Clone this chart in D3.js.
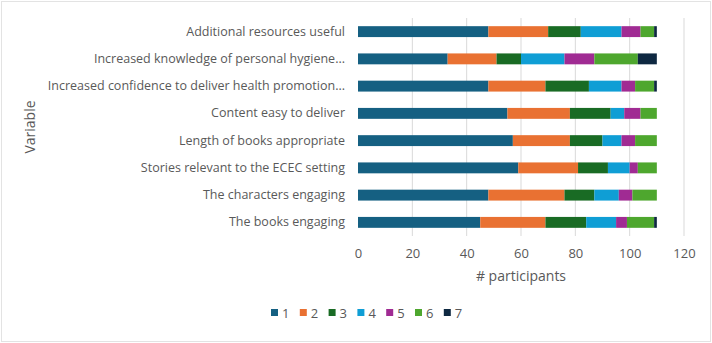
<!DOCTYPE html>
<html>
<head>
<meta charset="utf-8">
<script src="https://cdn.jsdelivr.net/npm/d3@7"></script>
<style>
  body { margin: 0; background: #fff; }
  text { font-family: "Open Sans", sans-serif; fill: #595959; }
</style>
</head>
<body>
<div id="visualize"></div>
<script>
// Chart size
const width = 712;
const height = 343;

// Categories (top to bottom)
const categories = [
    "Additional resources useful",
    "Increased knowledge of personal hygiene...",
    "Increased confidence to deliver health promotion...",
    "Content easy to deliver",
    "Length of books appropriate",
    "Stories relevant to the ECEC setting",
    "The characters engaging",
    "The books engaging"
];

// Rating levels (legend keys)
const levels = ["1", "2", "3", "4", "5", "6", "7"];

// Participant counts per level, one value per category
const level1 = [48, 33, 48, 55, 57, 59, 48, 45];
const level2 = [22, 18, 21, 23, 21, 22, 28, 24];
const level3 = [12, 9, 16, 15, 12, 11, 11, 15];
const level4 = [15, 16, 12, 5, 7, 8, 9, 11];
const level5 = [7, 11, 5, 6, 5, 3, 5, 4];
const level6 = [5, 16, 7, 6, 8, 7, 9, 10];
const level7 = [1, 7, 1, 0, 0, 0, 0, 1];

const xTicks = [0, 20, 40, 60, 80, 100, 120];

const colors = ["#156082", "#E97132", "#196B24", "#0F9ED5", "#A02B93", "#4EA72E", "#0E2841"];

// build rows for the stack
const series = [level1, level2, level3, level4, level5, level6, level7];
const rows = categories.map((c, i) => {
    const row = { category: c };
    levels.forEach((l, j) => { row[l] = series[j][i]; });
    return row;
});

const margin = { top: 18, right: 28, bottom: 107, left: 358 };

const svg = d3.select("#visualize")
    .append("svg")
    .attr("width", width)
    .attr("height", height);

// light outer frame
svg.append("rect")
    .attr("x", 1.5).attr("y", 1.5)
    .attr("width", width - 3).attr("height", height - 3)
    .attr("fill", "none")
    .attr("stroke", "#e3e3e3");

const x = d3.scaleLinear()
    .domain([0, 120])
    .range([margin.left, width - margin.right]);

const y = d3.scaleBand()
    .domain(categories)
    .range([margin.top, height - margin.bottom])
    .paddingInner(0.6)
    .paddingOuter(0.3);

// gridlines
svg.append("g")
    .selectAll("line")
    .data(xTicks.slice(1))
    .enter().append("line")
    .attr("x1", d => x(d)).attr("x2", d => x(d))
    .attr("y1", margin.top).attr("y2", height - margin.bottom)
    .attr("stroke", "#d9d9d9")
    .attr("stroke-width", 1);

// stacked bars
const stack = d3.stack().keys(levels)(rows);

svg.append("g")
    .selectAll("g")
    .data(stack)
    .enter().append("g")
    .attr("fill", (d, i) => colors[i])
    .selectAll("rect")
    .data(d => d)
    .enter().append("rect")
    .attr("x", d => x(d[0]))
    .attr("width", d => x(d[1]) - x(d[0]))
    .attr("y", d => y(d.data.category))
    .attr("height", y.bandwidth());

// x axis
const xAxis = svg.append("g")
    .attr("transform", `translate(0,${height - margin.bottom})`)
    .call(d3.axisBottom(x).tickValues(xTicks).tickSize(0).tickPadding(13));
xAxis.select(".domain").remove();
xAxis.selectAll("text")
    .style("font-size", "13px")
    .style("font-family", "'Open Sans', sans-serif")
    .attr("fill", "#595959");

// y axis labels
const yAxis = svg.append("g")
    .attr("transform", `translate(${margin.left},0)`)
    .call(d3.axisLeft(y).tickSize(0).tickPadding(13));
yAxis.select(".domain").remove();
yAxis.selectAll("text")
    .style("font-size", "12.5px")
    .style("font-family", "'Open Sans', sans-serif")
    .attr("fill", "#595959");

// axis titles
svg.append("text")
    .attr("x", (x(0) + x(120)) / 2)
    .attr("y", 281)
    .attr("text-anchor", "middle")
    .style("font-size", "14px")
    .text("# participants");

svg.append("text")
    .attr("transform", `translate(35,${(margin.top + height - margin.bottom) / 2}) rotate(-90)`)
    .attr("text-anchor", "middle")
    .style("font-size", "14px")
    .text("Variable");

// legend
const legend = svg.append("g")
    .attr("transform", "translate(271,313)");

const legendItems = legend.selectAll("g")
    .data(levels)
    .enter().append("g")
    .attr("transform", (d, i) => `translate(${i * 28.8},0)`);

legendItems.append("rect")
    .attr("x", 0).attr("y", -4)
    .attr("width", 7).attr("height", 7)
    .attr("fill", (d, i) => colors[i]);

legendItems.append("text")
    .attr("x", 11).attr("y", 0)
    .attr("dy", "0.35em")
    .style("font-size", "13px")
    .text(d => d);
</script>
</body>
</html>
